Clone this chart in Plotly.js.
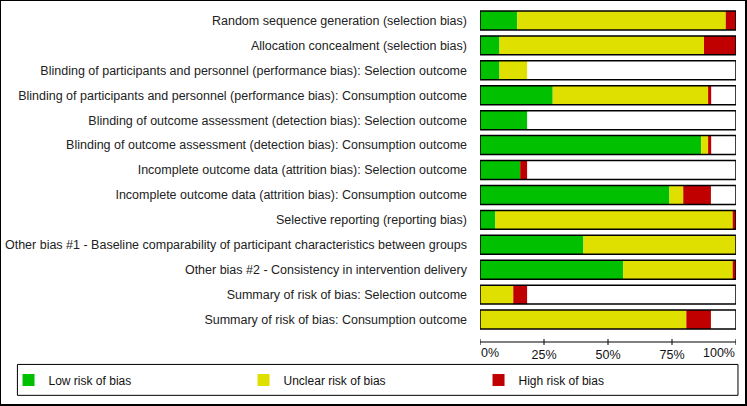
<!DOCTYPE html>
<html>
<head>
<meta charset="utf-8">
<script src="https://cdn.plot.ly/plotly-3.0.1.min.js"></script>
<style>
  html, body { margin: 0; padding: 0; background: #fff; overflow: hidden; }
  #wrap { position: relative; width: 747px; height: 406px; overflow: hidden; }
  #chart { position: absolute; left: 0; top: 0; width: 747px; height: 406px; }
  #frame { position: absolute; left: 0; top: 0; width: 747px; height: 406px;
           box-sizing: border-box; border: 1px solid #000; border-right-width: 2px; border-bottom-width: 2px;
           pointer-events: none; }
</style>
</head>
<body>
<div id="wrap">
  <div id="chart"></div>
  <div id="frame"></div>
</div>
<script>
// ---- Data (percent of studies) ----
const categories = [
  "Random sequence generation (selection bias)",
  "Allocation concealment (selection bias)",
  "Blinding of participants and personnel (performance bias): Selection outcome",
  "Blinding of participants and personnel (performance bias): Consumption outcome",
  "Blinding of outcome assessment (detection bias): Selection outcome",
  "Blinding of outcome assessment (detection bias): Consumption outcome",
  "Incomplete outcome data (attrition bias): Selection outcome",
  "Incomplete outcome data (attrition bias): Consumption outcome",
  "Selective reporting (reporting bias)",
  "Other bias #1 - Baseline comparability of participant characteristics between groups",
  "Other bias #2 - Consistency in intervention delivery",
  "Summary of risk of bias: Selection outcome",
  "Summary of risk of bias: Consumption outcome"
];
const lowRisk     = [14.5, 7.6, 7.6, 28.4, 18.4, 86.4, 15.7, 74.0, 6.0, 40.4, 55.9, 0, 0];
const unclearRisk = [81.5, 79.9, 10.8, 60.7, 0, 2.7, 0, 5.4, 92.7, 59.6, 42.8, 13.0, 80.6];
const highRisk    = [4.0, 12.5, 0, 1.2, 0, 1.2, 2.7, 10.8, 1.3, 0, 1.3, 5.4, 9.6];
const seriesNames = ["Low risk of bias", "Unclear risk of bias", "High risk of bias"];
const tickVals = [0, 25, 50, 75, 100];
const tickText = ["0%", "25%", "50%", "75%", "100%"];

// ---- Layout geometry (pixels) ----
const W = 747, H = 406;
const L = 477, PW = 259, R = W - L - PW, T = 7.5, B = 63.5;
const PH = H - T - B;
const px2x = p => (p - L) / PW;
const py2y = p => (H - B - p) / PH;

const colors = ["#00C000", "#E0E000", "#C00000"];
const baseUnclear = lowRisk.map((v) => v);
const baseHigh = lowRisk.map((v, i) => v + unclearRisk[i]);
const fullScale = categories.map(() => 100);

const barCommon = { type: "bar", orientation: "h", y: categories, hoverinfo: "skip", width: 0.76 };

const traces = [
  Object.assign({}, barCommon, { name: seriesNames[0], x: lowRisk, base: categories.map(() => 0),
    marker: { color: colors[0], line: { width: 0 } } }),
  Object.assign({}, barCommon, { name: seriesNames[1], x: unclearRisk, base: baseUnclear,
    marker: { color: colors[1], line: { width: 0 } } }),
  Object.assign({}, barCommon, { name: seriesNames[2], x: highRisk, base: baseHigh,
    marker: { color: colors[2], line: { width: 0 } } }),
  Object.assign({}, barCommon, { name: "frame", x: fullScale, base: categories.map(() => 0), showlegend: false,
    marker: { color: "rgba(0,0,0,0)", line: { width: 1.5, color: "#000" } } })
];

const last = tickVals.length - 1;
// middle labels come from the axis; the end labels are aligned inward like the reference
const midText = tickText.map((t, i) => (i === 0 || i === last) ? "" : t);
const tickFont = { size: 12.5, color: "#111", family: "Liberation Sans, Arial, sans-serif" };
const axisY = 342.5, labelY = 353.5;

// axis line and crossing tick marks, placed on the x scale from tickVals
const axisShapes = [
  { type: "line", xref: "x", yref: "paper", x0: tickVals[0], x1: tickVals[last],
    y0: py2y(axisY), y1: py2y(axisY), line: { color: "#000", width: 1 } }
].concat(tickVals.map(v => ({
    type: "line", xref: "x", yref: "paper", x0: v, x1: v,
    y0: py2y(axisY - 3), y1: py2y(axisY + 3), line: { color: "#000", width: 1 } })));

const layout = {
  width: W, height: H,
  margin: { l: L, r: R, t: T, b: B, pad: 0 },
  paper_bgcolor: "rgba(0,0,0,0)", plot_bgcolor: "rgba(0,0,0,0)",
  barmode: "overlay",
  font: { family: "Liberation Sans, Arial, sans-serif", size: 12, color: "#000" },
  showlegend: true,
  xaxis: {
    range: [0, 100], fixedrange: true, showgrid: false, zeroline: false,
    showline: false, tickmode: "array", tickvals: tickVals, ticktext: midText,
    ticks: "", ticklabelstandoff: 3, tickfont: tickFont
  },
  yaxis: {
    type: "category", categoryorder: "array", categoryarray: categories,
    range: [12.9, -0.5], fixedrange: true, showgrid: false, zeroline: false, showline: false,
    ticks: "", ticklabelstandoff: 12,
    tickfont: { size: 12.5, color: "#222" }
  },
  legend: {
    orientation: "h", x: px2x(0), xanchor: "left", y: py2y(380.5), yanchor: "middle",
    entrywidth: 190, entrywidthmode: "pixels",
    bgcolor: "rgba(0,0,0,0)", borderwidth: 0,
    font: { size: 12, color: "#111" }, traceorder: "normal"
  },
  annotations: [
    { xref: "x", yref: "paper", x: tickVals[0], y: py2y(labelY), xanchor: "left", yanchor: "middle",
      text: tickText[0], showarrow: false, font: tickFont, xshift: -1 },
    { xref: "x", yref: "paper", x: tickVals[last], y: py2y(labelY), xanchor: "right", yanchor: "middle",
      text: tickText[last], showarrow: false, font: tickFont, xshift: 1 }
  ],
  shapes: [
    { type: "rect", xref: "paper", yref: "paper",
      x0: px2x(9), x1: px2x(738), y0: py2y(365), y1: py2y(396),
      line: { color: "#000", width: 1 }, fillcolor: "rgba(0,0,0,0)", layer: "below" }
  ].concat(axisShapes)
};

Plotly.newPlot("chart", traces, layout, { staticPlot: true, displayModeBar: false });
</script>
</body>
</html>
